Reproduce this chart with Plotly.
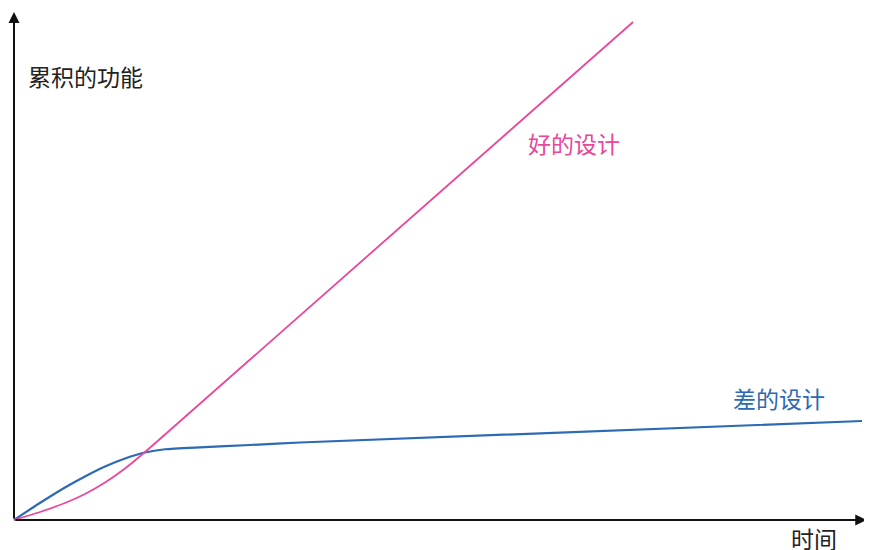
import plotly.graph_objects as go

# Data (time units vs accumulated features)
good_t = [0.0, 0.307, 0.601, 0.837, 1.073, 1.309, 1.545, 1.781, 7.30]
good_f = [0.0, 0.161, 0.341, 0.522, 0.753, 1.034, 1.365, 1.717, 10.0]
bad_t = [0.0, 0.295, 0.601, 0.837, 1.073, 1.309, 1.545, 1.781, 2.193, 2.783, 3.373, 10.0]
bad_f = [0.0, 0.331, 0.653, 0.874, 1.074, 1.235, 1.355, 1.420, 1.460, 1.506, 1.556, 1.988]

y_title = "累积的功能"
x_title = "时间"
good_label = "好的设计"
bad_label = "差的设计"

PINK = "#E8479A"
BLUE = "#2C6AB3"
FONT = "Noto Sans CJK SC"

fig = go.Figure()
fig.add_trace(go.Scatter(x=bad_t, y=bad_f, mode="lines",
                         line=dict(color=BLUE, width=2.2, shape="spline", smoothing=0.5),
                         hoverinfo="skip"))
fig.add_trace(go.Scatter(x=good_t, y=good_f, mode="lines",
                         line=dict(color=PINK, width=1.8, shape="spline", smoothing=0.5),
                         hoverinfo="skip"))

annotations = [
    # axes with arrows
    dict(x=10.05, y=0, ax=0, ay=0, xref="x", yref="y", axref="x", ayref="y",
         showarrow=True, arrowhead=2, arrowsize=1.1, arrowwidth=2, arrowcolor="#111", text=""),
    dict(x=0, y=10.2, ax=0, ay=0, xref="x", yref="y", axref="x", ayref="y",
         showarrow=True, arrowhead=2, arrowsize=1.1, arrowwidth=2, arrowcolor="#111", text=""),
    dict(x=0.136, y=8.92, xref="x", yref="y", text=y_title, showarrow=False,
         xanchor="left", yanchor="middle", font=dict(family=FONT, size=23, color="#222")),
    dict(x=9.43, y=-0.36, xref="x", yref="y", text=x_title, showarrow=False,
         xanchor="center", yanchor="middle", font=dict(family=FONT, size=23, color="#222")),
    dict(x=6.04, y=7.57, xref="x", yref="y", text=good_label, showarrow=False,
         xanchor="left", yanchor="middle", font=dict(family=FONT, size=23, color=PINK)),
    dict(x=8.45, y=2.45, xref="x", yref="y", text=bad_label, showarrow=False,
         xanchor="left", yanchor="middle", font=dict(family=FONT, size=23, color=BLUE)),
]

fig.update_layout(
    width=872, height=550,
    margin=dict(l=0, r=0, t=0, b=0),
    paper_bgcolor="white", plot_bgcolor="white",
    showlegend=False,
    annotations=annotations,
    xaxis=dict(range=[-0.0708, 10.212], visible=False, fixedrange=True),
    yaxis=dict(range=[-0.763, 10.281], visible=False, fixedrange=True),
)

fig.write_html("out.html")
